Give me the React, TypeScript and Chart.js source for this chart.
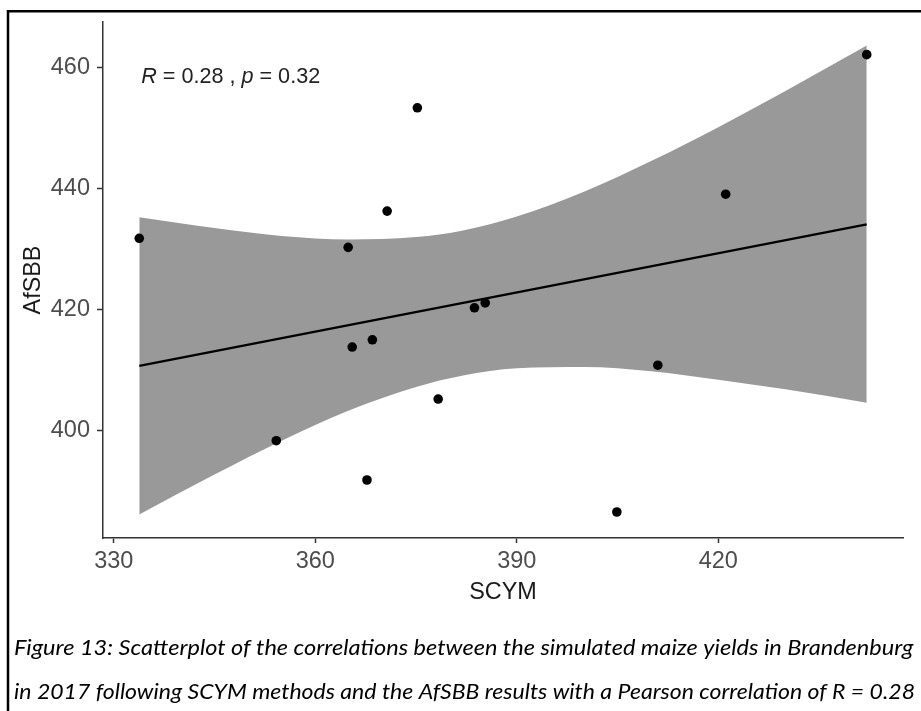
import { useEffect, useRef } from "react";
import { Chart, registerables } from "chart.js";

Chart.register(...registerables);

// Observations: simulated yields (SCYM) vs. reported yields (AfSBB)
const scymValues = [333.8, 364.9, 370.7, 375.2, 365.5, 368.5, 383.7, 385.3, 421.1, 442.1, 354.2, 367.7, 378.3, 411.0, 404.9];
const afsbbValues = [431.8, 430.3, 436.3, 453.4, 413.8, 415.0, 420.3, 421.1, 439.1, 462.2, 398.3, 391.8, 405.2, 410.8, 386.5];

// Linear fit end points
const fitX = [333.8, 442.1];
const fitY = [410.7, 434.1];

// 95% confidence band around the fit
const bandX = [333.8, 345, 355, 365, 375, 382, 390, 400, 410, 420, 430, 442.1];
const bandUpper = [435.3, 433.5, 432.2, 431.6, 432.0, 433.1, 435.4, 439.5, 444.6, 450.2, 456.2, 463.7];
const bandLower = [386.1, 392.7, 398.3, 403.3, 407.2, 409.1, 410.3, 410.5, 409.8, 408.4, 406.8, 404.6];

const xTicks = [330, 360, 390, 420];
const yTicks = [400, 420, 440, 460];

const xTitle = "SCYM";
const yTitle = "AfSBB";
const statR = "0.28";
const statP = "0.32";

const captionLines = [
  "Figure 13: Scatterplot of the correlations between the simulated maize yields in Brandenburg",
  "in 2017 following SCYM methods and the AfSBB results with a Pearson correlation of R = 0.28",
];

const SANS = '"Liberation Sans", Arial, Helvetica, sans-serif';
const CAPTION_FONT = '"Lato", "Open Sans", "Noto Sans", sans-serif';

const decorations = {
  id: "decorations",
  afterDraw(chart: any) {
    const ctx: CanvasRenderingContext2D = chart.ctx;
    ctx.save();

    // frame around the figure (top and left edges)
    ctx.strokeStyle = "#000";
    ctx.lineWidth = 2.5;
    ctx.beginPath();
    ctx.moveTo(921, 11.2);
    ctx.lineTo(8, 11.2);
    ctx.lineTo(8, 711);
    ctx.stroke();

    // correlation statistics
    const parts: [string, boolean][] = [
      ["R", true],
      [" = " + statR + " , ", false],
      ["p", true],
      [" = " + statP, false],
    ];
    let x = chart.scales.x.getPixelForValue(scymValues[0]) + 2;
    const y = 82.5;
    ctx.fillStyle = "#222";
    ctx.textBaseline = "alphabetic";
    ctx.textAlign = "left";
    for (const [txt, italic] of parts) {
      ctx.font = `${italic ? "italic " : ""}21.6px ${SANS}`;
      ctx.fillText(txt, x, y);
      x += ctx.measureText(txt).width;
    }

    // caption, justified between the margins
    const lineSpecs = [
      { text: captionLines[0], baseline: 654.5, left: 14, right: 913.5 },
      { text: captionLines[1], baseline: 698.5, left: 14, right: 915 },
    ];
    ctx.fillStyle = "#000";
    ctx.font = `italic 22px ${CAPTION_FONT}`;
    for (const spec of lineSpecs) {
      const w = ctx.measureText(spec.text).width;
      const sx = (spec.right - spec.left) / w;
      ctx.save();
      ctx.translate(spec.left, spec.baseline);
      ctx.scale(sx, 1);
      ctx.fillText(spec.text, 0, 0);
      ctx.restore();
    }

    ctx.restore();
  },
};

export default function App() {
  const canvasRef = useRef<HTMLCanvasElement | null>(null);

  useEffect(() => {
    if (!canvasRef.current) return;

    const points = scymValues.map((v, i) => ({ x: v, y: afsbbValues[i] }));
    const fit = fitX.map((v, i) => ({ x: v, y: fitY[i] }));
    const lower = bandX.map((v, i) => ({ x: v, y: bandLower[i] }));
    const upper = bandX.map((v, i) => ({ x: v, y: bandUpper[i] }));

    const chart = new Chart(canvasRef.current, {
      type: "scatter",
      data: {
        datasets: [
          {
            label: "observations",
            data: points,
            backgroundColor: "#000",
            borderColor: "#000",
            borderWidth: 0,
            pointRadius: 4.8,
            showLine: false,
          },
          {
            label: "fit",
            type: "line",
            data: fit,
            borderColor: "#000",
            borderWidth: 2.2,
            pointRadius: 0,
            fill: false,
          },
          {
            label: "band lower",
            type: "line",
            data: lower,
            borderColor: "transparent",
            borderWidth: 0,
            pointRadius: 0,
            cubicInterpolationMode: "monotone",
            fill: false,
          },
          {
            label: "band upper",
            type: "line",
            data: upper,
            borderColor: "transparent",
            borderWidth: 0,
            pointRadius: 0,
            cubicInterpolationMode: "monotone",
            backgroundColor: "rgb(153,153,153)",
            fill: "-1",
          },
        ],
      } as any,
      options: {
        responsive: false,
        devicePixelRatio: 1,
        animation: false,
        events: [],
        layout: { padding: { left: 0, top: 22, right: 18, bottom: 103 } },
        plugins: {
          legend: { display: false },
          tooltip: { enabled: false },
          title: { display: false },
        },
        scales: {
          x: {
            type: "linear",
            min: 328.4,
            max: 447.5,
            afterBuildTicks: (s: any) => {
              s.ticks = xTicks.map((v) => ({ value: v }));
            },
            afterFit: (s: any) => {
              s.height = 70;
            },
            grid: {
              drawOnChartArea: false,
              drawTicks: true,
              tickLength: 5,
              color: "#333",
              tickColor: "#333",
              tickWidth: 1.5,
            },
            border: { display: true, color: "#333", width: 1.5 },
            ticks: {
              font: { family: SANS, size: 23.5 },
              color: "#4d4d4d",
              padding: 4,
              maxRotation: 0,
              autoSkip: false,
            },
            title: {
              display: true,
              text: xTitle,
              font: { family: SANS, size: 23.4 },
              color: "#1a1a1a",
              padding: { top: 0, bottom: 1 },
            },
          },
          y: {
            type: "linear",
            min: 382.2,
            max: 467.6,
            afterBuildTicks: (s: any) => {
              s.ticks = yTicks.map((v) => ({ value: v }));
            },
            afterFit: (s: any) => {
              s.width = 103;
            },
            grid: {
              drawOnChartArea: false,
              drawTicks: true,
              tickLength: 6,
              color: "#333",
              tickColor: "#333",
              tickWidth: 1.5,
            },
            border: { display: true, color: "#333", width: 1.5 },
            ticks: {
              font: { family: SANS, size: 23.5 },
              color: "#4d4d4d",
              padding: 7,
              autoSkip: false,
            },
            title: {
              display: true,
              text: yTitle,
              font: { family: SANS, size: 23.4 },
              color: "#1a1a1a",
              padding: { top: 20, bottom: 0 },
            },
          },
        },
      } as any,
      plugins: [decorations],
    });

    return () => chart.destroy();
  }, []);

  return (
    <div style={{ position: "fixed", left: 0, top: 0, width: 921, height: 711, background: "#fff" }}>
      <canvas ref={canvasRef} width={921} height={711} style={{ display: "block" }} />
    </div>
  );
}
